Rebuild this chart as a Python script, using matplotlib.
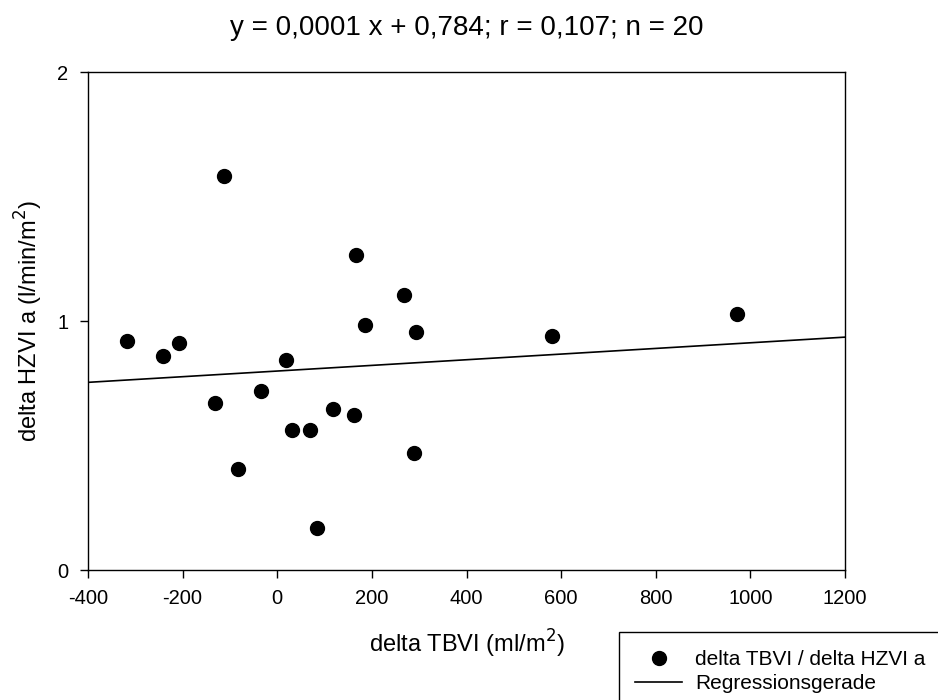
import numpy as np
import matplotlib.pyplot as plt
from matplotlib.patches import Rectangle

plt.rcParams['font.family'] = ['Liberation Sans', 'DejaVu Sans']
plt.rcParams['axes.unicode_minus'] = False

# delta TBVI (ml/m^2) vs delta HZVI a (l/min/m^2)
tbvi = [-318, -242, -208, -113, -132, -83, -34, 18, 31, 69,
        84, 118, 162, 166, 185, 268, 293, 289, 581, 972]
hzvi = [0.920, 0.859, 0.912, 1.582, 0.671, 0.406, 0.719, 0.843, 0.562, 0.562,
        0.169, 0.647, 0.622, 1.265, 0.984, 1.104, 0.956, 0.470, 0.940, 1.028]

title = "y = 0,0001 x + 0,784; r = 0,107; n = 20"
xticks = [-400, -200, 0, 200, 400, 600, 800, 1000, 1200]
yticks = [0, 1, 2]

x = np.array(tbvi)
y = np.array(hzvi)
slope, icpt = np.polyfit(x, y, 1)
xl = np.array([-400, 1200])

fig = plt.figure(figsize=(9.38, 7.0), dpi=100)
ax = fig.add_axes([0.0938, 0.1857, 0.8071, 0.7114])

pts, = ax.plot(x, y, 'o', color='black', ms=10, linestyle='none')
reg, = ax.plot(xl, slope * xl + icpt, '-', color='black', lw=1.2)

ax.set_xlim(-400, 1200)
ax.set_ylim(0, 2)
ax.set_xticks(xticks)
ax.set_yticks(yticks)
ax.tick_params(direction='out', length=6, width=1, labelsize=14.5)
ax.tick_params(axis='x', pad=8)
ax.tick_params(axis='y', pad=8)
for s in ax.spines.values():
    s.set_linewidth(1)

ax.set_title(title, fontsize=20, pad=27)
ax.set_xlabel("delta TBVI (ml/m$^2$)", fontsize=17, labelpad=14)
ax.set_ylabel("delta HZVI a (l/min/m$^2$)", fontsize=17, labelpad=9)

# legend box running off the figure edge
fig.patches.append(Rectangle((619 / 938, -0.1), 0.4, (700 - 632) / 700 + 0.1,
                             transform=fig.transFigure, fill=False,
                             edgecolor='black', lw=1))
fig.legend([pts, reg], ["delta TBVI / delta HZVI a", "Regressionsgerade"],
           loc='upper left', bbox_to_anchor=(635 / 938, (700 - 650) / 700),
           frameon=False, fontsize=15, borderpad=0, borderaxespad=0,
           handlelength=2.26, handletextpad=0.62, labelspacing=0.25)

fig.savefig("out.png", dpi=100)
